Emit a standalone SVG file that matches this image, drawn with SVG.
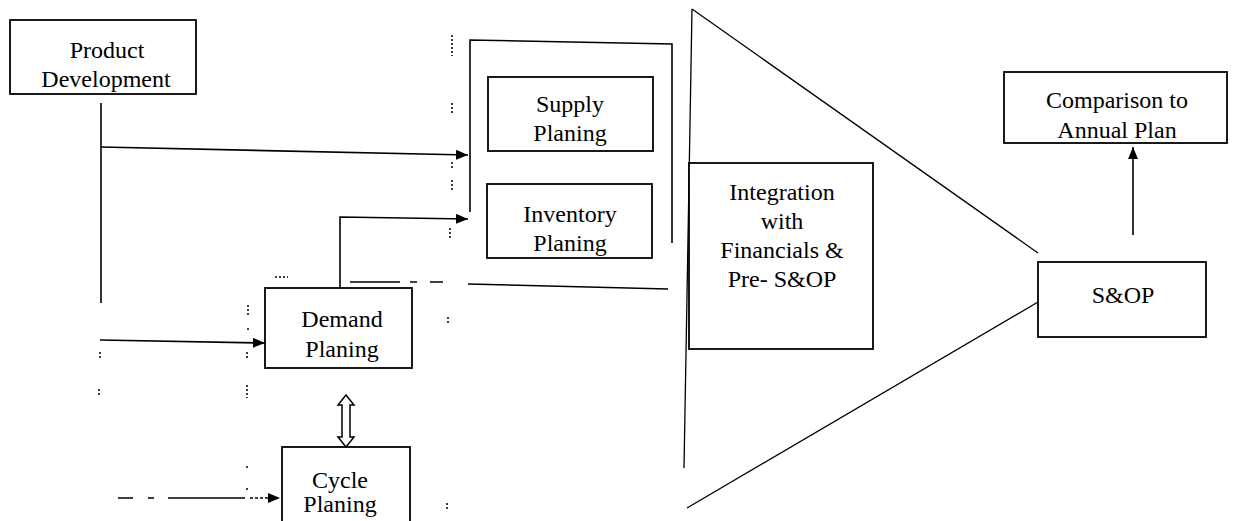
<svg xmlns="http://www.w3.org/2000/svg" width="1235" height="521" viewBox="0 0 1235 521">
  <style>
    .box { fill: #fff; stroke: #000; stroke-width: 1.8; }
    .ln { fill: none; stroke: #000; stroke-width: 1.6; }
    .thin { fill: none; stroke: #000; stroke-width: 1.3; }
    .tick { fill: none; stroke: #000; stroke-width: 1.5; stroke-dasharray: 2 2; }
    .lbl { font-size: 24px; fill: #000; text-anchor: middle; }
  </style>
  <defs>
    <marker id="head" viewBox="0 0 12 10" refX="12" refY="5" markerWidth="12" markerHeight="10" markerUnits="userSpaceOnUse" orient="auto">
      <path d="M0,0 L12,5 L0,10 z" fill="#000"/>
    </marker>
  </defs>

  <!-- funnel outline -->
  <g id="funnel">
    <path class="thin" d="M692,9 L684,468"/>
    <path class="thin" d="M692,9 L1038,253"/>
    <path class="thin" d="M687,508 L1038,302"/>
  </g>

  <g font-family="'Liberation Serif', 'Times New Roman', serif">
    <g id="product-development">
      <rect class="box" x="10" y="20" width="186" height="74"/>
      <text class="lbl" x="107" y="58">Product</text>
      <text class="lbl" x="106" y="87">Development</text>
    </g>

    <g id="supply-inventory-group">
      <path class="ln" d="M470,212 L470,40 L672,44 L672,243"/>
    </g>

    <g id="supply-planing">
      <rect class="box" x="488" y="77" width="165" height="74"/>
      <text class="lbl" x="570" y="112">Supply</text>
      <text class="lbl" x="570" y="141">Planing</text>
    </g>

    <g id="inventory-planing">
      <rect class="box" x="487" y="184" width="165" height="74"/>
      <text class="lbl" x="570" y="222">Inventory</text>
      <text class="lbl" x="570" y="251">Planing</text>
    </g>

    <g id="demand-planing">
      <rect class="box" x="265" y="288" width="147" height="80"/>
      <text class="lbl" x="342" y="327">Demand</text>
      <text class="lbl" x="342" y="357">Planing</text>
    </g>

    <g id="cycle-planing">
      <rect class="box" x="282" y="447" width="128" height="80"/>
      <text class="lbl" x="340" y="488">Cycle</text>
      <text class="lbl" x="340" y="512">Planing</text>
    </g>

    <g id="integration">
      <rect class="box" x="689" y="163" width="184" height="186"/>
      <text class="lbl" x="782" y="200">Integration</text>
      <text class="lbl" x="782" y="229">with</text>
      <text class="lbl" x="782" y="258">Financials &amp;</text>
      <text class="lbl" x="782" y="287">Pre- S&amp;OP</text>
    </g>

    <g id="sop">
      <rect class="box" x="1038" y="262" width="168" height="75"/>
      <text class="lbl" x="1123" y="303">S&amp;OP</text>
    </g>

    <g id="comparison">
      <rect class="box" x="1004" y="72" width="223" height="71"/>
      <text class="lbl" x="1117" y="108">Comparison to</text>
      <text class="lbl" x="1117" y="138">Annual Plan</text>
    </g>
  </g>

  <g id="connectors">
    <!-- product development feeds supply side and demand planing -->
    <path class="ln" d="M101,103 L101,303"/>
    <path class="ln" d="M101,147 L468,155" marker-end="url(#head)"/>
    <path class="ln" d="M100,340 L265,343" marker-end="url(#head)"/>
    <!-- demand planing to inventory planing -->
    <path class="ln" d="M340,288 L340,217 L468,219" marker-end="url(#head)"/>
    <!-- demand planing to integration -->
    <path class="ln" d="M350,282 L400,282"/>
    <path class="ln" d="M410,282 L417,282 M430,282 L443,282"/>
    <path class="ln" d="M468,284 L668,289"/>
    <!-- cycle planing feed -->
    <path class="ln" d="M118,498 L133,498 M148,498 L154,498 M168,498 L245,498"/>
    <path class="ln" d="M250,498 L280,498" stroke-dasharray="3 2" marker-end="url(#head)"/>
    <!-- demand planing <-> cycle planing -->
    <path fill="#fff" stroke="#000" stroke-width="1.5" d="M346,395 L354,405 L350,405 L350,437 L354,437 L346,447 L338,437 L342,437 L342,405 L338,405 Z"/>
    <!-- S&OP to comparison -->
    <path class="ln" d="M1133,235 L1133,147" marker-end="url(#head)"/>
  </g>

  <!-- faint dotted guide marks -->
  <g id="guides">
    <path class="tick" d="M452,35 L452,56 M452,103 L452,115 M452,162 L452,170 M452,180 L452,190 M450,228 L450,238"/>
    <path class="tick" d="M248,305 L248,315 M248,328 L248,332 M247,352 L247,358 M247,385 L247,398 M247,466 L247,470 M247,488 L247,492"/>
    <path class="tick" d="M100,352 L100,358 M99,389 L99,395 M448,317 L448,323 M447,503 L447,509 M275,277 L288,277"/>
  </g>
</svg>
